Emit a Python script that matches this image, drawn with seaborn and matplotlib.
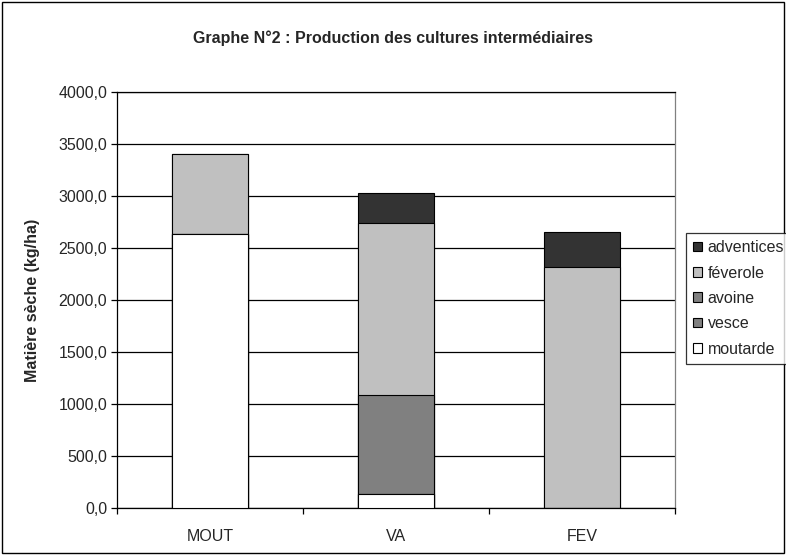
import matplotlib
matplotlib.use("Agg")
import matplotlib.pyplot as plt
from matplotlib.patches import Patch, Rectangle
from matplotlib.ticker import FuncFormatter, FixedLocator
import seaborn as sns
import numpy as np
import pandas as pd

# data (kg/ha of dry matter)
categories = ["MOUT", "VA", "FEV"]
moutarde = [2630, 135, 0]
vesce = [0, 0, 0]
avoine = [0, 950, 0]
feverole = [770, 1660, 2315]
adventices = [0, 285, 340]

species = ["moutarde", "vesce", "avoine", "féverole", "adventices"]
colors = ["#FFFFFF", "#808080", "#808080", "#C0C0C0", "#333333"]

sns.set_theme(style="white")
plt.rcParams["font.family"] = ["Liberation Sans", "DejaVu Sans"]
fs = 11.5

df = pd.DataFrame({"culture": categories, "moutarde": moutarde, "vesce": vesce,
                   "avoine": avoine, "féverole": feverole, "adventices": adventices})
cum = df[species].cumsum(axis=1)

fig = plt.figure(figsize=(7.86, 5.55), dpi=100)
ax = fig.add_axes([117 / 786, 1 - 508 / 555, 558 / 786, 416 / 555])

# stacked bars: draw cumulative totals from the top layer down
for sp, col in reversed(list(zip(species, colors))):
    sns.barplot(x=df["culture"], y=cum[sp], color=col, order=categories,
                width=0.41, edgecolor="black", linewidth=0.8, saturation=1,
                ax=ax, zorder=3)

ax.set_ylim(0, 4000)
ax.set_xlim(-0.5, 2.5)
ax.set_yticks(np.arange(0, 4001, 500))
ax.yaxis.set_major_formatter(FuncFormatter(lambda v, p: f"{v:.1f}".replace(".", ",")))
ax.yaxis.grid(True, color="black", linewidth=0.9, zorder=0)
ax.set_axisbelow(True)

ax.tick_params(axis="y", left=True, length=4, width=0.9, color="black",
               labelsize=fs, pad=3)
ax.tick_params(axis="x", bottom=False, labelsize=fs, pad=9)
ax.xaxis.set_minor_locator(FixedLocator([-0.5, 0.5, 1.5, 2.5]))
ax.tick_params(axis="x", which="minor", bottom=True, length=4, width=0.9, color="black")

for s in ["left", "bottom", "top"]:
    ax.spines[s].set_color("black")
    ax.spines[s].set_linewidth(0.9)
ax.spines["right"].set_color("#808080")
ax.spines["right"].set_linewidth(0.9)

ax.set_xlabel("")
ax.set_ylabel("Matière sèche (kg/ha)", fontsize=fs, fontweight="bold")
ax.yaxis.set_label_coords(-0.138, 0.5)

fig.suptitle("Graphe N°2 : Production des cultures intermédiaires",
             fontsize=fs, fontweight="bold", y=1 - 38 / 555, va="center")

handles = [Patch(facecolor=c, edgecolor="black", linewidth=0.8, label=s)
           for s, c in zip(species, colors)][::-1]
leg = fig.legend(handles=handles, loc="upper left",
                 bbox_to_anchor=(686 / 786, 1 - 233 / 555), fontsize=fs,
                 frameon=True, fancybox=False, edgecolor="black",
                 handlelength=0.55, handleheight=0.55, handletextpad=0.35,
                 labelspacing=0.65, borderpad=0.45, borderaxespad=0)
leg.get_frame().set_linewidth(0.9)

fig.patches.append(Rectangle((0.002, 0.003), 0.995, 0.994, transform=fig.transFigure,
                             fill=False, edgecolor="black", linewidth=1))

fig.savefig("out.png", dpi=100, facecolor="white")
